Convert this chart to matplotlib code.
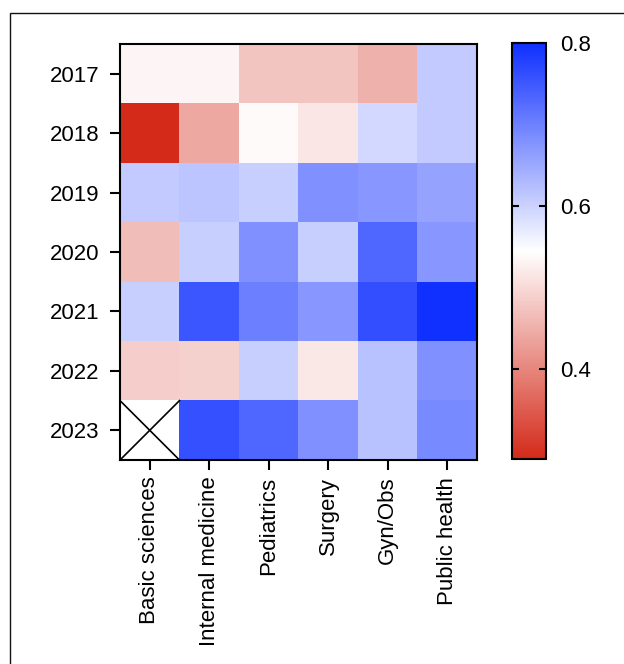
import numpy as np
import matplotlib.pyplot as plt
from matplotlib.colors import LinearSegmentedColormap
from matplotlib.patches import Rectangle

# Heatmap of yearly values per discipline (NaN = no data)
years = ['2017', '2018', '2019', '2020', '2021', '2022', '2023']
disciplines = ['Basic sciences', 'Internal medicine', 'Pediatrics',
               'Surgery', 'Gyn/Obs', 'Public health']

row2017 = [0.535, 0.535, 0.476, 0.476, 0.453, 0.610]
row2018 = [0.290, 0.443, 0.540, 0.516, 0.591, 0.610]
row2019 = [0.609, 0.616, 0.604, 0.680, 0.672, 0.657]
row2020 = [0.467, 0.604, 0.680, 0.604, 0.731, 0.672]
row2021 = [0.604, 0.752, 0.701, 0.672, 0.761, 0.800]
row2022 = [0.486, 0.490, 0.604, 0.518, 0.620, 0.680]
row2023 = [np.nan, 0.760, 0.731, 0.680, 0.620, 0.688]

cbar_ticks = [0.4, 0.6, 0.8]
vmin, vmax = 0.29, 0.80

values = np.array([row2017, row2018, row2019, row2020, row2021, row2022, row2023])
masked = np.ma.masked_invalid(values)

plt.rcParams['font.family'] = ['Liberation Sans', 'DejaVu Sans']

cmap = LinearSegmentedColormap.from_list('rwb', ['#d42a1a', '#ffffff', '#1030ff'])
cmap.set_bad('white')

fig = plt.figure(figsize=(6.24, 6.64), dpi=100)
ax = fig.add_axes([0.1923, 0.3072, 0.5721, 0.6265])
cax = fig.add_axes([0.8205, 0.3087, 0.0545, 0.6265])

im = ax.imshow(masked, cmap=cmap, vmin=vmin, vmax=vmax, aspect='auto',
               interpolation='nearest')

# cross out the missing cell
for (r, c) in zip(*np.where(np.isnan(values))):
    ax.plot([c - 0.5, c + 0.5], [r - 0.5, r + 0.5], color='black', lw=1.2)
    ax.plot([c - 0.5, c + 0.5], [r + 0.5, r - 0.5], color='black', lw=1.2)
ax.set_xlim(-0.5, len(disciplines) - 0.5)
ax.set_ylim(len(years) - 0.5, -0.5)

ax.set_xticks(range(len(disciplines)))
ax.set_xticklabels(disciplines, rotation=90, fontsize=16)
ax.set_yticks(range(len(years)))
ax.set_yticklabels(years, fontsize=16)
ax.tick_params(axis='both', direction='out', length=7, width=1.5)
ax.tick_params(axis='y', pad=8)
ax.tick_params(axis='x', pad=5)
for sp in ax.spines.values():
    sp.set_linewidth(1.5)

cb = fig.colorbar(im, cax=cax, ticks=cbar_ticks)
cb.outline.set_linewidth(1.5)
cb.ax.tick_params(direction='in', length=5, width=1.5, left=True, right=True,
                  labelsize=16, pad=10)
cb.ax.set_yticklabels(['0.4', '0.6', '0.8'])

# partial frame around the panel
fig.add_artist(Rectangle((10 / 624, -1.0), 2.0, 1.0 + (1 - 13 / 664),
                         transform=fig.transFigure, fill=False,
                         edgecolor='#111111', lw=1.0))

plt.savefig('out.png', dpi=100)
